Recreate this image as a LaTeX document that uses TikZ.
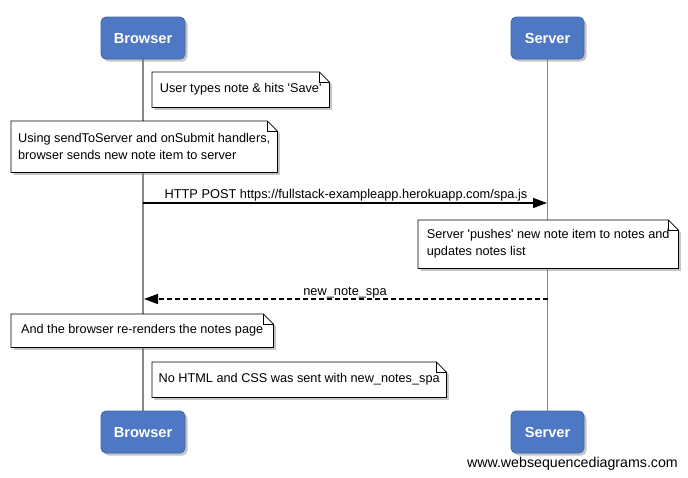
\documentclass[tikz,border=0pt]{standalone}
\usepackage{fontspec}
\setmainfont{Liberation Sans}
\usetikzlibrary{shadows,arrows.meta,backgrounds}
\definecolor{partblue}{RGB}{79,120,196}
\definecolor{lifegray}{RGB}{135,135,135}
\newcommand\wsdnote[1]{%
  \path[noteshape] (#1.north west) -- ([xshift=-10pt]#1.north east) -- ([yshift=-10pt]#1.north east) -- (#1.south east) -- (#1.south west) -- cycle;
  \draw[line width=0.8pt] ([xshift=-10pt]#1.north east) |- ([yshift=-10pt]#1.north east);}
\newcommand\sq{\textquotesingle}
\begin{document}
\begin{tikzpicture}[x=1pt,y=-1pt,
  participant/.style={draw=partblue!85!black, line width=0.8pt, fill=partblue, rounded corners=5pt, text=white,
    font=\fontsize{14.6}{16}\selectfont\bfseries, minimum width=84pt, minimum height=42pt,
    text height=10.5pt, text depth=0pt,
    drop shadow={shadow xshift=2.5pt,shadow yshift=-2.5pt,opacity=0.45}},
  notebox/.style={anchor=north west, align=left, inner sep=0pt, font=\fontsize{12.7}{17}\selectfont},
  noteshape/.style={draw=black, fill=white, line width=0.8pt,
    drop shadow={shadow xshift=2.5pt,shadow yshift=-2.5pt,opacity=0.45}},
  lifeline/.style={draw=lifegray, line width=1.5pt},
  msg/.style={line width=1.4pt, -{Triangle[length=14pt,width=10pt]}},
  msglabel/.style={font=\fontsize{12.8}{14}\selectfont, inner sep=0pt},
]
\useasboundingbox (0,0) rectangle (688,477);
% participants
\node[participant] (btop) at (143,38) {Browser};
\node[participant, minimum width=73pt] (stop) at (547.5,38) {Server};
\node[participant] (bbot) at (143,432) {Browser};
\node[participant, minimum width=73pt] (sbot) at (547.5,432) {Server};

% notes (text nodes)
\node[notebox, minimum width=177pt, minimum height=35pt] (n1) at (152,72) {User types note \& hits \sq Save\sq};
\node[notebox, minimum width=266pt, minimum height=51pt] (n2) at (11,121) {Using sendToServer and onSubmit handlers,\\browser sends new note item to server};
\node[notebox, minimum width=260pt, minimum height=48pt] (n3) at (418,220) {Server \sq pushes\sq{} new note item to notes and\\updates notes list};
\node[notebox, minimum width=262pt, minimum height=33pt] (n4) at (11,314) {And the browser re-renders the notes page};
\node[notebox, minimum width=294pt, minimum height=35pt] (n5) at (152,362) {No HTML and CSS was sent with new\_notes\_spa};

\begin{scope}[on background layer]
  \draw[lifeline] (btop.south) -- (bbot.north);
  \draw[lifeline] (stop.south) -- (sbot.north);
  \wsdnote{n1}
  \wsdnote{n2}
  \wsdnote{n3}
  \wsdnote{n4}
  \wsdnote{n5}
\end{scope}

% messages
\coordinate (b1) at (143,203);
\coordinate (s1) at (547,203);
\coordinate (s2) at (548,299);
\coordinate (b2) at (144,299);
\draw[msg] (b1) -- (s1);
\node[msglabel, anchor=base] (l1) at (346,198) {HTTP POST https://fullstack-exampleapp.herokuapp.com/spa.js};
\draw[msg, dash pattern=on 5pt off 3pt] (s2) -- (b2);
\node[msglabel, anchor=base] (l2) at (345,295) {new\_note\_spa};

% watermark
\node[font=\fontsize{14.2}{16}\selectfont, inner sep=0pt, anchor=base east] (wm) at (678,467) {www.websequencediagrams.com};
\end{tikzpicture}
\end{document}
